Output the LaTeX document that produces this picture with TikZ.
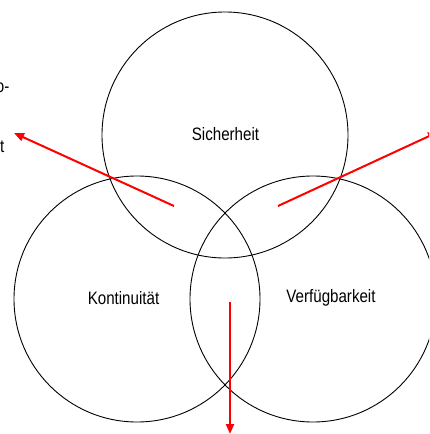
\documentclass[tikz,border=0pt]{standalone}
\usepackage{fontspec}
\setmainfont[FakeStretch=0.84]{Liberation Sans}
\usetikzlibrary{arrows.meta}
\tikzset{
  ring/.style={draw=black, line width=0.9pt, circle, minimum size=246pt, inner sep=0pt},
  lbl/.style={font=\fontsize{18}{20}\selectfont, inner sep=0pt},
  redarrow/.style={draw=red, line width=2pt, -{Triangle[length=10pt,width=8pt]}},
}
\begin{document}
\begin{tikzpicture}[x=1pt,y=-1pt]
\useasboundingbox (0,0) rectangle (429,434);
\clip (0,0) rectangle (429,434);
\node[ring] (top) at (225,135) {};
\node[ring] (left) at (137,299) {};
\node[ring] (right) at (313,299) {};
\node[lbl] (ts) at (225.5,134) {Sicherheit};
\node[lbl] (tk) at (123.5,298) {Kontinuität};
\node[lbl] (tv) at (331,298) {Verfügbarkeit};
\node[lbl, anchor=east] (p1) at (9.5,88) {o-};
\node[lbl, anchor=east] (p2) at (4.5,147) {t};
\coordinate (a1s) at (174,206);
\coordinate (a1e) at (14,133);
\coordinate (a2s) at (278,206);
\coordinate (a2e) at (438,132);
\coordinate (a3s) at (230,302);
\coordinate (a3e) at (230,434);
\draw[redarrow] (a1s) -- (a1e);
\draw[redarrow] (a2s) -- (a2e);
\draw[redarrow] (a3s) -- (a3e);
\end{tikzpicture}
\end{document}
